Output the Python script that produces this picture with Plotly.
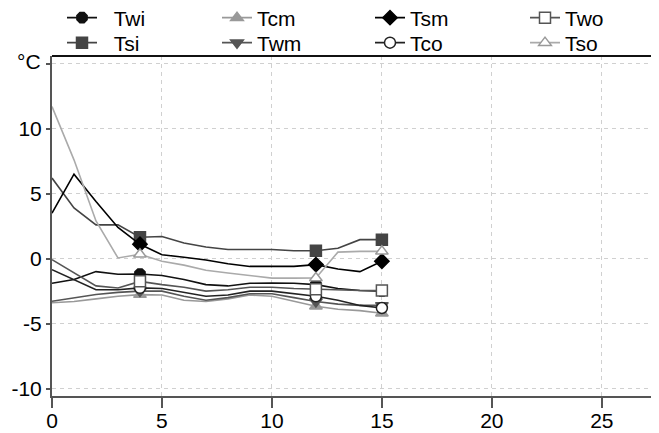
import plotly.graph_objects as go

# x positions of the samples
x_vals = list(range(0, 16))
marker_x = [4, 12, 15]

# series values (°C)
Twi = [-1.9, -1.6, -1.0, -1.2, -1.18, -1.3, -1.6, -2.0, -2.1, -1.9, -1.87, -1.9, -2.0, -2.3, -2.45, -2.5]
Tsi = [6.2, 3.9, 2.6, 2.6, 1.64, 1.7, 1.2, 0.9, 0.7, 0.7, 0.7, 0.6, 0.61, 0.8, 1.46, 1.46]
Tcm = [-3.4, -3.3, -3.1, -2.9, -2.77, -2.8, -3.2, -3.3, -3.1, -2.8, -2.9, -3.3, -3.66, -3.9, -4.0, -4.2]
Twm = [-3.28, -3.0, -2.76, -2.6, -2.5, -2.5, -2.9, -3.2, -3.0, -2.7, -2.7, -3.0, -3.3, -3.5, -3.6, -3.6]
Tsm = [3.5, 6.5, 4.4, 2.4, 1.1, 0.3, 0.1, -0.1, -0.4, -0.6, -0.6, -0.6, -0.46, -0.8, -1.0, -0.2]
Tco = [-0.85, -1.6, -2.4, -2.4, -2.25, -2.3, -2.6, -2.9, -2.8, -2.5, -2.5, -2.7, -2.9, -3.2, -3.6, -3.8]
Two = [-0.08, -1.1, -2.1, -2.26, -1.75, -2.0, -2.2, -2.5, -2.4, -2.2, -2.2, -2.3, -2.36, -2.4, -2.45, -2.46]
Tso = [11.7, 7.6, 2.9, 0.05, 0.33, -0.2, -0.5, -0.9, -1.1, -1.3, -1.5, -1.5, -1.49, 0.5, 0.56, 0.56]

x_ticks = [0, 5, 10, 15, 20, 25]
y_ticks = [-10, -5, 0, 5, 10, 15]
y_tick_text = ["-10", "-5", "0", "5", "10", ""]

series = [
    # name, data, line colour, symbol, marker fill, marker line colour
    ("Twi", Twi, "#111111", "octagon", "#111111", "#111111"),
    ("Tsi", Tsi, "#444444", "square", "#444444", "#444444"),
    ("Tcm", Tcm, "#999999", "triangle-up", "#999999", "#999999"),
    ("Twm", Twm, "#555555", "triangle-down", "#555555", "#555555"),
    ("Tsm", Tsm, "#000000", "diamond", "#000000", "#000000"),
    ("Tco", Tco, "#222222", "circle", "#ffffff", "#222222"),
    ("Two", Two, "#555555", "square", "#ffffff", "#555555"),
    ("Tso", Tso, "#aaaaaa", "triangle-up", "#ffffff", "#999999"),
]

# the page body adds an 8px offset, so the figure is 8px smaller than the window
W, H = 651, 425
font = dict(family="Liberation Sans, Arial, sans-serif", size=21, color="#000000")

# legend entry placement in figure px: (left, row centre), and extra text gap
leg_left = [54, 54, 209, 209, 362, 362, 517, 517]
leg_row = [10, 35, 10, 35, 10, 35, 10, 35]
leg_pad = ["\u00a0\u00a0", "\u00a0\u00a0", "", "", "", "", "", ""]

fig = go.Figure()
legends = {}
for i, (name, data, lc, sym, mfill, mline) in enumerate(series):
    key = "legend" if i == 0 else f"legend{i + 1}"
    fig.add_trace(go.Scatter(
        x=x_vals, y=data, mode="lines", name=name, legendgroup=name,
        showlegend=False, line=dict(color=lc, width=1.6), hoverinfo="skip"))
    mys = [data[x_vals.index(v)] for v in marker_x]
    fig.add_trace(go.Scatter(
        x=marker_x, y=mys, mode="markers", name=name, legendgroup=name,
        showlegend=False,
        marker=dict(symbol=sym, size=11, color=mfill, line=dict(color=mline, width=1.5))))
    fig.add_trace(go.Scatter(
        x=[None], y=[None], mode="lines+markers", name=leg_pad[i] + name, legendgroup=name,
        legend=key, showlegend=True, line=dict(color=lc, width=1.6),
        marker=dict(symbol=sym, size=11, color=mfill, line=dict(color=mline, width=1.5))))
    legends[key] = dict(
        xref="container", yref="container",
        x=leg_left[i] / W, y=1 - leg_row[i] / H,
        xanchor="left", yanchor="middle", orientation="v",
        bgcolor="rgba(0,0,0,0)", borderwidth=0, font=font,
        itemwidth=30, tracegroupgap=0)

fig.update_layout(
    width=W, height=H,
    margin=dict(l=44, r=0, t=48, b=37, autoexpand=False),
    plot_bgcolor="#ffffff", paper_bgcolor="#ffffff",
    font=font,
    xaxis=dict(range=[0, 27.6], tickvals=x_ticks, ticks="outside", ticklen=10,
               tickcolor="#555555", tickwidth=1.5, ticklabelstandoff=-5,
               showline=True, linecolor="#555555", linewidth=2,
               showgrid=True, gridcolor="#d0d0d0", griddash="4px,4px", gridwidth=1,
               zeroline=False, tickfont=font, automargin=False),
    yaxis=dict(range=[-10.57, 15.59], tickvals=y_ticks, ticktext=y_tick_text,
               ticks="outside", ticklen=4,
               tickcolor="#555555", tickwidth=1.5,
               showline=True, linecolor="#555555", linewidth=2,
               showgrid=True, gridcolor="#d0d0d0", griddash="4px,4px", gridwidth=1,
               zeroline=False, tickfont=font, automargin=False),
    showlegend=True,
    **legends,
)

fig.add_shape(type="line", xref="paper", yref="paper", x0=0, x1=1, y0=1, y1=1,
              line=dict(color="#111111", width=2))
fig.add_annotation(text="°C", xref="paper", yref="paper", x=-0.015, y=1.0,
                   xanchor="right", yanchor="middle", yshift=-5, showarrow=False, font=font)

fig.write_html("out.html")
